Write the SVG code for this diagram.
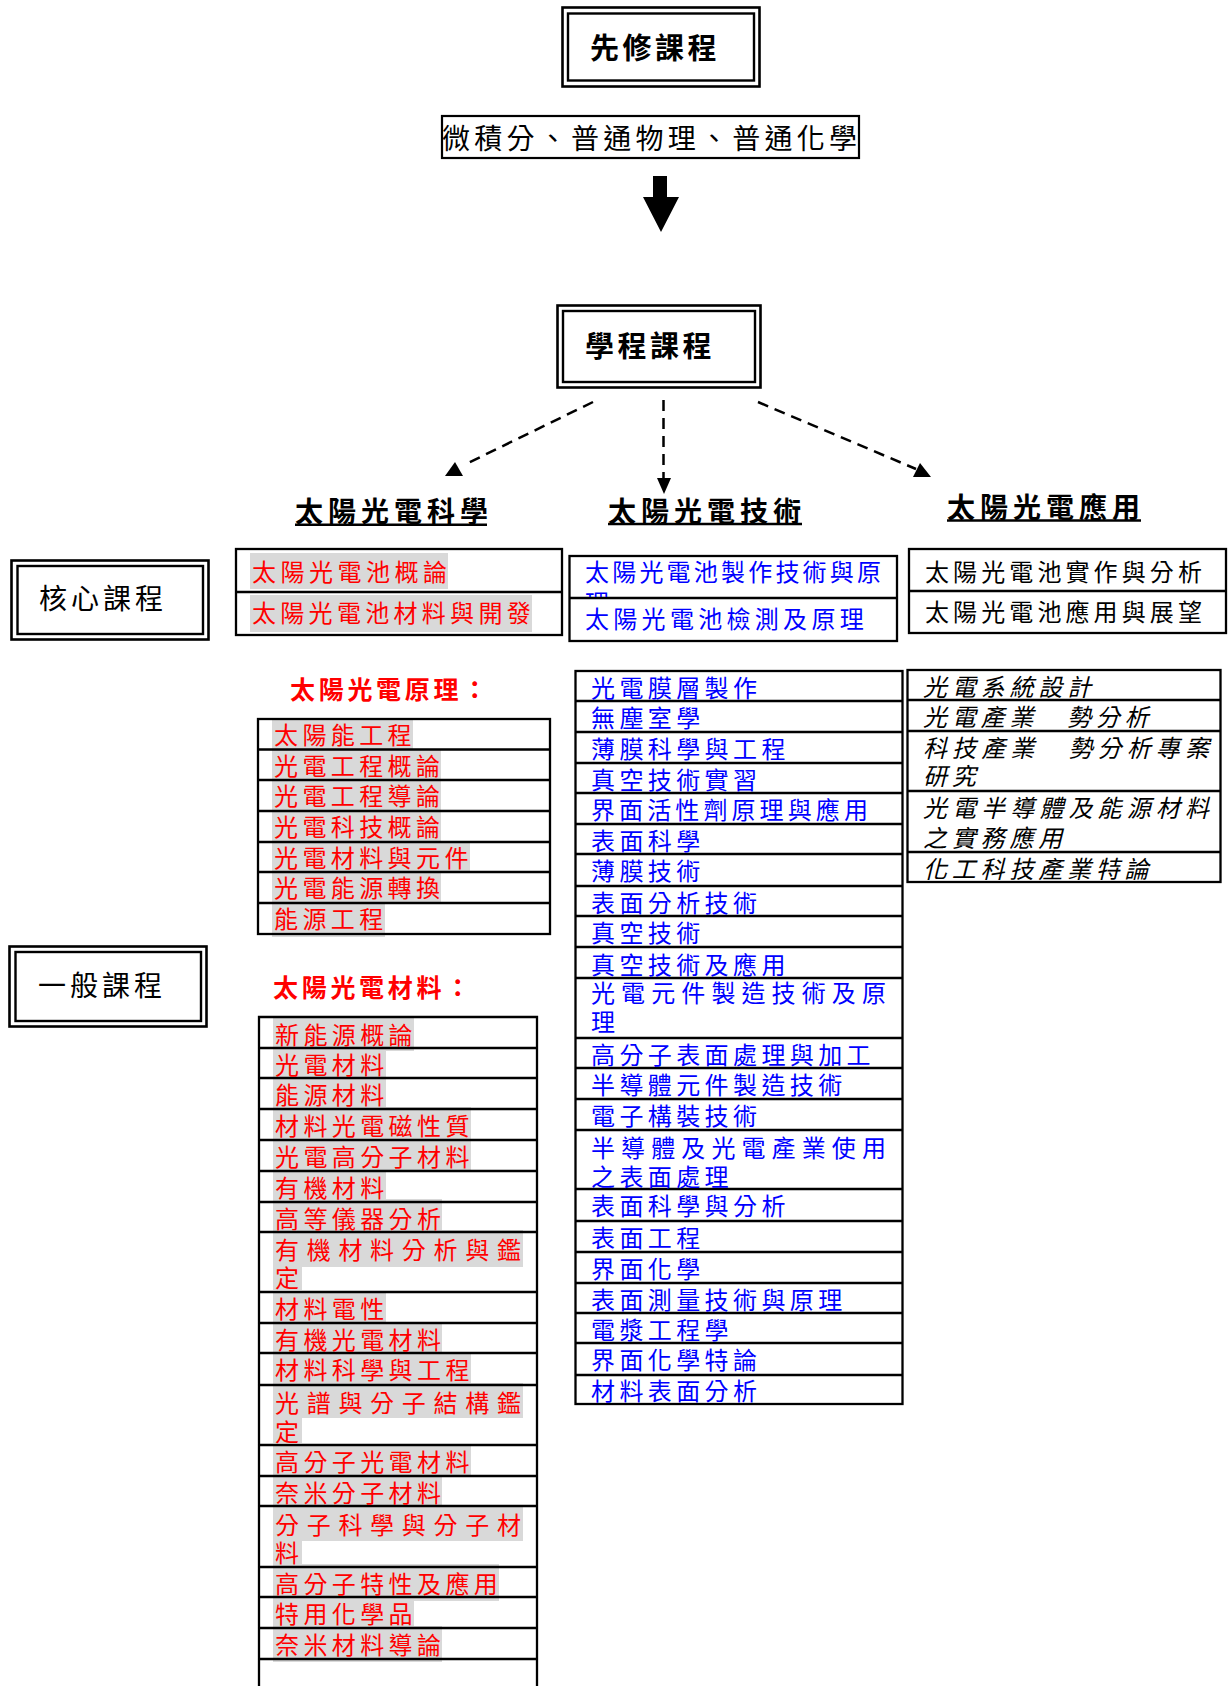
<svg xmlns="http://www.w3.org/2000/svg" width="1228" height="1686" viewBox="0 0 1228 1686">
<defs>
<style>
text{font-family:'Noto Sans CJK TC','Noto Sans CJK JP',sans-serif;}
.bg{fill:#ffffff;}
.ob{fill:none;stroke:#000;stroke-width:2.6;}
.ib{fill:none;stroke:#000;stroke-width:2.4;}
.tb{fill:none;stroke:#000;stroke-width:2.3;}
.hl{fill:#d9d9d9;}
.t{font-size:24px;letter-spacing:4.4px;}
.red{fill:#ff0000;}
.blue{fill:#0000ff;}
.blk{fill:#000;}
.it{font-style:italic;fill:#000;}
.hd{font-size:28px;font-weight:bold;letter-spacing:5px;fill:#000;}
.ul{stroke:#000;stroke-width:2.5;}
.rh{font-size:25px;font-weight:bold;letter-spacing:3.7px;fill:#ff0000;}
.dash{fill:none;stroke:#000;stroke-width:2.5;stroke-dasharray:11 7;}
.head{fill:#000;stroke:none;}
</style>
<clipPath id="clipLi"><rect x="580" y="589" width="40" height="8"/></clipPath>
</defs>
<rect class="bg" x="0" y="0" width="1228" height="1686"/>

<g id="prereq-title">
<rect class="ob" x="562.5" y="7.5" width="197" height="79"/>
<rect class="ib" x="568" y="13.5" width="186" height="67"/>
<text x="590" y="58.5" style="font-size:29px;font-weight:bold;letter-spacing:3.5px;fill:#000">先修課程</text>
</g>

<g id="prereq-courses">
<rect class="ob" x="442" y="116" width="417" height="42" style="stroke-width:2.2"/>
<text x="442" y="148.5" style="font-size:28px;letter-spacing:4.25px;fill:#000">微積分、普通物理、普通化學</text>
</g>

<g id="program-title">
<rect class="ob" x="557.5" y="305.5" width="203" height="82"/>
<rect class="ib" x="563" y="311" width="192" height="71"/>
<text x="585" y="356.5" style="font-size:29px;font-weight:bold;letter-spacing:3.5px;fill:#000">學程課程</text>
</g>

<g id="connectors">
<polygon class="head" points="653,176 667,176 667,197 679,197 661,232 643,197 653,197"/>
<line class="dash" x1="593" y1="402" x2="468" y2="463"/>
<polygon class="head" points="455,462 445,476 463,476"/>
<line class="dash" x1="663.5" y1="400" x2="663.5" y2="479"/>
<polygon class="head" points="657,478 671,478 664,494"/>
<line class="dash" x1="758" y1="402" x2="916" y2="469"/>
<polygon class="head" points="920,463 913,477 931,477"/>
</g>

<g id="heading-science">
<text class="hd" x="295" y="521.5">太陽光電科學</text>
<line class="ul" x1="295" y1="524.7" x2="487" y2="524.7"/>
</g>
<g id="heading-tech">
<text class="hd" x="608" y="521.5">太陽光電技術</text>
<line class="ul" x1="608" y1="524" x2="802" y2="524"/>
</g>
<g id="heading-app">
<text class="hd" x="947" y="518">太陽光電應用</text>
<line class="ul" x1="947" y1="520.5" x2="1141" y2="520.5"/>
</g>

<g id="core-label">
<rect class="ob" x="11.5" y="560.5" width="197" height="79"/>
<rect class="ib" x="17.5" y="566" width="185.5" height="68"/>
<text x="39" y="608.5" style="font-size:28px;letter-spacing:4px;fill:#000">核心課程</text>
</g>

<g id="general-label">
<rect class="ob" x="9.5" y="946.5" width="197" height="80"/>
<rect class="ib" x="15.5" y="952" width="185.5" height="69"/>
<text x="38" y="995.5" style="font-size:28px;letter-spacing:4px;fill:#000">一般課程</text>
</g>

<g id="core-science">
<rect class="hl" x="250" y="553" width="198" height="36"/>
<rect class="hl" x="250" y="595" width="282" height="37"/>
<rect class="tb" x="236" y="549" width="326" height="86"/>
<line class="tb" x1="236" y1="592" x2="562" y2="592"/>
<text class="t red" x="252" y="580.5" style="letter-spacing:4.5px">太陽光電池概論</text>
<text class="t red" x="252" y="621.5" style="letter-spacing:4.3px">太陽光電池材料與開發</text>
</g>

<g id="core-tech">
<rect class="tb" x="569.5" y="556" width="327.5" height="85"/>
<line class="tb" x1="569.5" y1="598" x2="897" y2="598"/>
<text class="t blue" x="585" y="581" style="letter-spacing:3.2px">太陽光電池製作技術與原</text>
<text class="t blue" x="585" y="612" clip-path="url(#clipLi)">理</text>
<text class="t blue" x="585" y="628" style="letter-spacing:4.3px">太陽光電池檢測及原理</text>
</g>

<g id="core-app">
<rect class="tb" x="909" y="549" width="317" height="84"/>
<line class="tb" x1="909" y1="591" x2="1226" y2="591"/>
<text class="t blk" x="925" y="581" style="letter-spacing:4.1px">太陽光電池實作與分析</text>
<text class="t blk" x="925" y="621" style="letter-spacing:4.1px">太陽光電池應用與展望</text>
</g>

<g id="principle-heading">
<text class="rh" x="290" y="698.5">太陽光電原理：</text>
</g>

<g id="principle-table">
<rect class="hl" x="272" y="720" width="141" height="29"/>
<rect class="hl" x="272" y="750" width="169" height="30"/>
<rect class="hl" x="272" y="781" width="169" height="30"/>
<rect class="hl" x="272" y="812" width="169" height="30"/>
<rect class="hl" x="272" y="842" width="198" height="30"/>
<rect class="hl" x="272" y="873" width="169" height="30"/>
<rect class="hl" x="272" y="904" width="113" height="33"/>
<rect class="tb" x="258" y="719" width="292" height="215"/>
<path class="tb" d="M258 749.5H550M258 780H550M258 811H550M258 842H550M258 872H550M258 903H550"/>
<text class="t red" x="274" y="743.5">太陽能工程</text>
<text class="t red" x="274" y="774.5">光電工程概論</text>
<text class="t red" x="274" y="805">光電工程導論</text>
<text class="t red" x="274" y="836">光電科技概論</text>
<text class="t red" x="274" y="866.5">光電材料與元件</text>
<text class="t red" x="274" y="897">光電能源轉換</text>
<text class="t red" x="274" y="928">能源工程</text>
</g>

<g id="materials-heading">
<text class="rh" x="273" y="996.5">太陽光電材料：</text>
</g>

<g id="materials-table">
<rect class="hl" x="273" y="1018" width="141" height="33"/>
<rect class="hl" x="273" y="1051" width="113" height="27"/>
<rect class="hl" x="273" y="1079" width="113" height="30"/>
<rect class="hl" x="273" y="1107" width="198" height="33"/>
<rect class="hl" x="273" y="1141" width="198" height="30"/>
<rect class="hl" x="273" y="1172" width="113" height="30"/>
<rect class="hl" x="273" y="1199" width="169" height="33"/>
<rect class="hl" x="273" y="1230" width="250" height="37"/>
<rect class="hl" x="273" y="1267" width="29" height="23"/>
<rect class="hl" x="273" y="1293" width="113" height="30"/>
<rect class="hl" x="273" y="1322" width="169" height="31"/>
<rect class="hl" x="273" y="1352" width="198" height="33"/>
<rect class="hl" x="273" y="1383" width="250" height="35"/>
<rect class="hl" x="273" y="1418" width="29" height="25"/>
<rect class="hl" x="273" y="1446" width="198" height="30"/>
<rect class="hl" x="273" y="1477" width="169" height="29"/>
<rect class="hl" x="273" y="1505" width="250" height="36"/>
<rect class="hl" x="273" y="1541" width="29" height="25"/>
<rect class="hl" x="273" y="1564" width="226" height="37"/>
<rect class="hl" x="273" y="1598" width="141" height="30"/>
<rect class="hl" x="273" y="1626" width="169" height="36"/>
<path class="tb" d="M259 1690V1017H537V1690M259 1048H537M259 1078H537M259 1109H537M259 1140H537M259 1171H537M259 1202H537M259 1232H537M259 1292H537M259 1323H537M259 1353H537M259 1385H537M259 1445H537M259 1476H537M259 1506H537M259 1567H537M259 1597H537M259 1628H537M259 1659H537"/>
<text class="t red" x="275" y="1043.5">新能源概論</text>
<text class="t red" x="275" y="1074">光電材料</text>
<text class="t red" x="275" y="1104">能源材料</text>
<text class="t red" x="275" y="1135">材料光電磁性質</text>
<text class="t red" x="275" y="1166">光電高分子材料</text>
<text class="t red" x="275" y="1197">有機材料</text>
<text class="t red" x="275" y="1228">高等儀器分析</text>
<text class="t red" x="275" y="1259" style="letter-spacing:7.7px">有機材料分析與鑑</text>
<text class="t red" x="275" y="1287">定</text>
<text class="t red" x="275" y="1318">材料電性</text>
<text class="t red" x="275" y="1349">有機光電材料</text>
<text class="t red" x="275" y="1379">材料科學與工程</text>
<text class="t red" x="275" y="1412" style="letter-spacing:7.7px">光譜與分子結構鑑</text>
<text class="t red" x="275" y="1441">定</text>
<text class="t red" x="275" y="1471">高分子光電材料</text>
<text class="t red" x="275" y="1502">奈米分子材料</text>
<text class="t red" x="275" y="1534" style="letter-spacing:7.7px">分子科學與分子材</text>
<text class="t red" x="275" y="1562">料</text>
<text class="t red" x="275" y="1593">高分子特性及應用</text>
<text class="t red" x="275" y="1623">特用化學品</text>
<text class="t red" x="275" y="1654">奈米材料導論</text>
</g>

<g id="tech-table">
<rect class="tb" x="575.5" y="671" width="327" height="733"/>
<path class="tb" d="M575.5 701H902.5M575.5 732H902.5M575.5 763H902.5M575.5 793H902.5M575.5 824H902.5M575.5 854H902.5M575.5 886H902.5M575.5 916H902.5M575.5 947H902.5M575.5 978H902.5M575.5 1038H902.5M575.5 1068H902.5M575.5 1099H902.5M575.5 1130H902.5M575.5 1189H902.5M575.5 1221H902.5M575.5 1252H902.5M575.5 1283H902.5M575.5 1313H902.5M575.5 1343H902.5M575.5 1375H902.5"/>
<text class="t blue" x="591" y="697">光電膜層製作</text>
<text class="t blue" x="591" y="727">無塵室學</text>
<text class="t blue" x="591" y="758">薄膜科學與工程</text>
<text class="t blue" x="591" y="789">真空技術實習</text>
<text class="t blue" x="591" y="819" style="letter-spacing:4.1px">界面活性劑原理與應用</text>
<text class="t blue" x="591" y="850">表面科學</text>
<text class="t blue" x="591" y="880">薄膜技術</text>
<text class="t blue" x="591" y="912">表面分析技術</text>
<text class="t blue" x="591" y="942">真空技術</text>
<text class="t blue" x="591" y="973.5">真空技術及應用</text>
<text class="t blue" x="591" y="1002" style="letter-spacing:6.1px">光電元件製造技術及原</text>
<text class="t blue" x="591" y="1030.5">理</text>
<text class="t blue" x="591" y="1064">高分子表面處理與加工</text>
<text class="t blue" x="591" y="1094">半導體元件製造技術</text>
<text class="t blue" x="591" y="1125">電子構裝技術</text>
<text class="t blue" x="591" y="1157" style="letter-spacing:6.1px">半導體及光電產業使用</text>
<text class="t blue" x="591" y="1185.5">之表面處理</text>
<text class="t blue" x="591" y="1215">表面科學與分析</text>
<text class="t blue" x="591" y="1247">表面工程</text>
<text class="t blue" x="591" y="1278">界面化學</text>
<text class="t blue" x="591" y="1309">表面測量技術與原理</text>
<text class="t blue" x="591" y="1339">電漿工程學</text>
<text class="t blue" x="591" y="1369">界面化學特論</text>
<text class="t blue" x="591" y="1400">材料表面分析</text>
</g>

<g id="app-table">
<rect class="tb" x="907.5" y="670" width="313" height="212"/>
<path class="tb" d="M907.5 700H1220.5M907.5 731H1220.5M907.5 791H1220.5M907.5 852H1220.5"/>
<text class="t it" x="923" y="695.5" style="letter-spacing:4.8px">光電系統設計</text>
<text class="t it" x="923" y="726" style="letter-spacing:4.8px">光電產業　勢分析</text>
<text class="t it" x="923" y="756.5" style="letter-spacing:5.1px">科技產業　勢分析專案</text>
<text class="t it" x="923" y="785" style="letter-spacing:4.8px">研究</text>
<text class="t it" x="923" y="816.5" style="letter-spacing:5.1px">光電半導體及能源材料</text>
<text class="t it" x="923" y="846.5" style="letter-spacing:4.8px">之實務應用</text>
<text class="t it" x="923" y="878" style="letter-spacing:4.8px">化工科技產業特論</text>
</g>
</svg>
